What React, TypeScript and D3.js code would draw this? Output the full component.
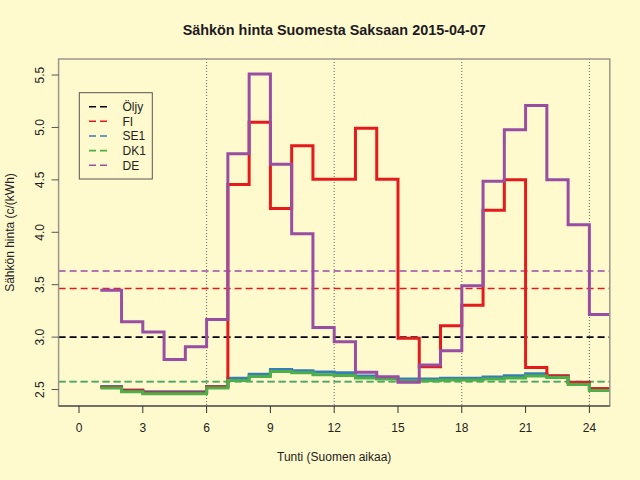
import React from "react";
import * as d3 from "d3";

const hours = [1, 2, 3, 4, 5, 6, 7, 8, 9, 10, 11, 12, 13, 14, 15, 16, 17, 18, 19, 20, 21, 22, 23, 24];

const fiValues = [2.522, 2.49, 2.47, 2.47, 2.47, 2.525, 4.457, 5.05, 4.226, 4.826, 4.505, 4.505, 4.993, 4.505, 2.99, 2.717, 3.108, 3.305, 4.21, 4.5, 2.711, 2.63, 2.568, 2.508];
const se1Values = [2.528, 2.495, 2.478, 2.478, 2.478, 2.53, 2.607, 2.645, 2.692, 2.68, 2.667, 2.66, 2.63, 2.613, 2.6, 2.6, 2.607, 2.607, 2.62, 2.632, 2.65, 2.632, 2.57, 2.51];
const dk1Values = [2.515, 2.478, 2.46, 2.46, 2.46, 2.515, 2.586, 2.624, 2.671, 2.66, 2.64, 2.635, 2.61, 2.6, 2.582, 2.585, 2.59, 2.59, 2.6, 2.61, 2.63, 2.614, 2.548, 2.49];
const deValues = [3.448, 3.146, 3.05, 2.787, 2.908, 3.168, 4.75, 5.511, 4.648, 3.987, 3.092, 2.955, 2.664, 2.622, 2.569, 2.733, 2.87, 3.489, 4.486, 4.978, 5.21, 4.5, 4.073, 3.216];

const legendNames = ["Öljy", "FI", "SE1", "DK1", "DE"];
const legendColors = ["#000000", "#E41A1C", "#377EB8", "#4DAF4A", "#984EA3"];
const meanValues = [3.0, 3.464, 2.576, 2.574, 3.631];

const xTicks = [0, 3, 6, 9, 12, 15, 18, 21, 24];
const yTicks = [2.5, 3.0, 3.5, 4.0, 4.5, 5.0, 5.5];
const gridHours = [6, 12, 18, 24];

const title = "Sähkön hinta Suomesta Saksaan 2015-04-07";
const xLabel = "Tunti (Suomen aikaa)";
const yLabel = "Sähkön hinta (c/(kWh)";

const W = 640;
const H = 480;
const L = 58.6, R = 609.8, T = 59, B = 406;
const FONT = "'Liberation Sans', Arial, Helvetica, sans-serif";

export default function App() {
  const x = d3.scaleLinear().domain([-0.96, 24.96]).range([L, R]);
  const y = d3.scaleLinear().domain([2.343, 5.653]).range([B, T]);

  const line = d3
    .line<[number, number]>()
    .x((d) => x(d[0]))
    .y((d) => y(d[1]))
    .curve(d3.curveStepAfter);

  const mk = (vals: number[]): [number, number][] => {
    const pts: [number, number][] = hours.map((h, i) => [h, vals[i]]);
    pts.push([hours[hours.length - 1] + 1, vals[vals.length - 1]]);
    return pts;
  };

  // drawing order: SE1, FI, DK1, DE
  const series = [
    { vals: se1Values, color: legendColors[2] },
    { vals: fiValues, color: legendColors[1] },
    { vals: dk1Values, color: legendColors[3] },
    { vals: deValues, color: legendColors[4] },
  ];

  const legendRows = [106.7, 121.3, 136, 150.6, 165.3];

  return (
    <svg
      width={W}
      height={H}
      style={{ position: "absolute", left: 0, top: 0, background: "#FFFACD" }}
      fontFamily={FONT}
    >
      <defs>
        <clipPath id="plotclip">
          <rect x={L} y={T} width={R - L} height={B - T} />
        </clipPath>
      </defs>
      <rect x={0} y={0} width={W} height={H} fill="#FFFACD" />

      {/* vertical dotted lines */}
      {gridHours.map((h) => (
        <line
          key={"g" + h}
          x1={x(h)}
          x2={x(h)}
          y1={T}
          y2={B}
          stroke="#666"
          strokeWidth={1}
          strokeDasharray="1,2"
        />
      ))}

      <g clipPath="url(#plotclip)">
        {/* mean dashed lines */}
        {meanValues.map((m, i) => (
          <line
            key={"m" + i}
            x1={L}
            x2={R}
            y1={y(m)}
            y2={y(m)}
            stroke={legendColors[i]}
            strokeWidth={1.6}
            strokeDasharray="7,4"
          />
        ))}
        {series.map((s, i) => (
          <path
            key={"s" + i}
            d={line(mk(s.vals)) || ""}
            fill="none"
            stroke={s.color}
            strokeWidth={3}
            strokeLinejoin="miter"
            strokeLinecap="butt"
          />
        ))}
      </g>

      {/* box */}
      <rect x={L} y={T} width={R - L} height={B - T} fill="none" stroke="#9a968a" strokeWidth={1.5} />
      <line x1={L} x2={R} y1={B} y2={B} stroke="#333" strokeWidth={1} />

      {/* x axis */}
      {xTicks.map((t) => (
        <g key={"x" + t}>
          <line x1={x(t)} x2={x(t)} y1={B} y2={B + 7} stroke="#333" strokeWidth={1} />
          <text x={x(t)} y={432} textAnchor="middle" fontSize={12} fill="#222">
            {t}
          </text>
        </g>
      ))}

      {/* y axis */}
      {yTicks.map((t) => (
        <g key={"y" + t}>
          <line x1={L} x2={L - 7} y1={y(t)} y2={y(t)} stroke="#555" strokeWidth={1} />
          <text
            transform={`translate(43.5, ${y(t)}) rotate(-90)`}
            textAnchor="middle"
            fontSize={12}
            fill="#222"
          >
            {t.toFixed(1)}
          </text>
        </g>
      ))}

      {/* labels */}
      <text x={(L + R) / 2} y={35} textAnchor="middle" fontSize={14.4} fontWeight="bold" fill="#1e1a24">
        {title}
      </text>
      <text x={(L + R) / 2} y={461} textAnchor="middle" fontSize={12} fill="#222">
        {xLabel}
      </text>
      <text
        transform={`translate(13.5, ${(T + B) / 2}) rotate(-90)`}
        textAnchor="middle"
        fontSize={12}
        fill="#222"
      >
        {yLabel}
      </text>

      {/* legend */}
      <rect x={79.3} y={92.7} width={73} height={86.3} fill="#FFFACD" stroke="#555" strokeWidth={1} />
      {legendNames.map((n, i) => (
        <g key={"l" + n}>
          <line
            x1={89}
            x2={109}
            y1={legendRows[i]}
            y2={legendRows[i]}
            stroke={legendColors[i]}
            strokeWidth={1.6}
            strokeDasharray="7,4"
          />
          <text x={122.5} y={legendRows[i] + 4.4} fontSize={12} fill="#222">
            {n}
          </text>
        </g>
      ))}
    </svg>
  );
}
